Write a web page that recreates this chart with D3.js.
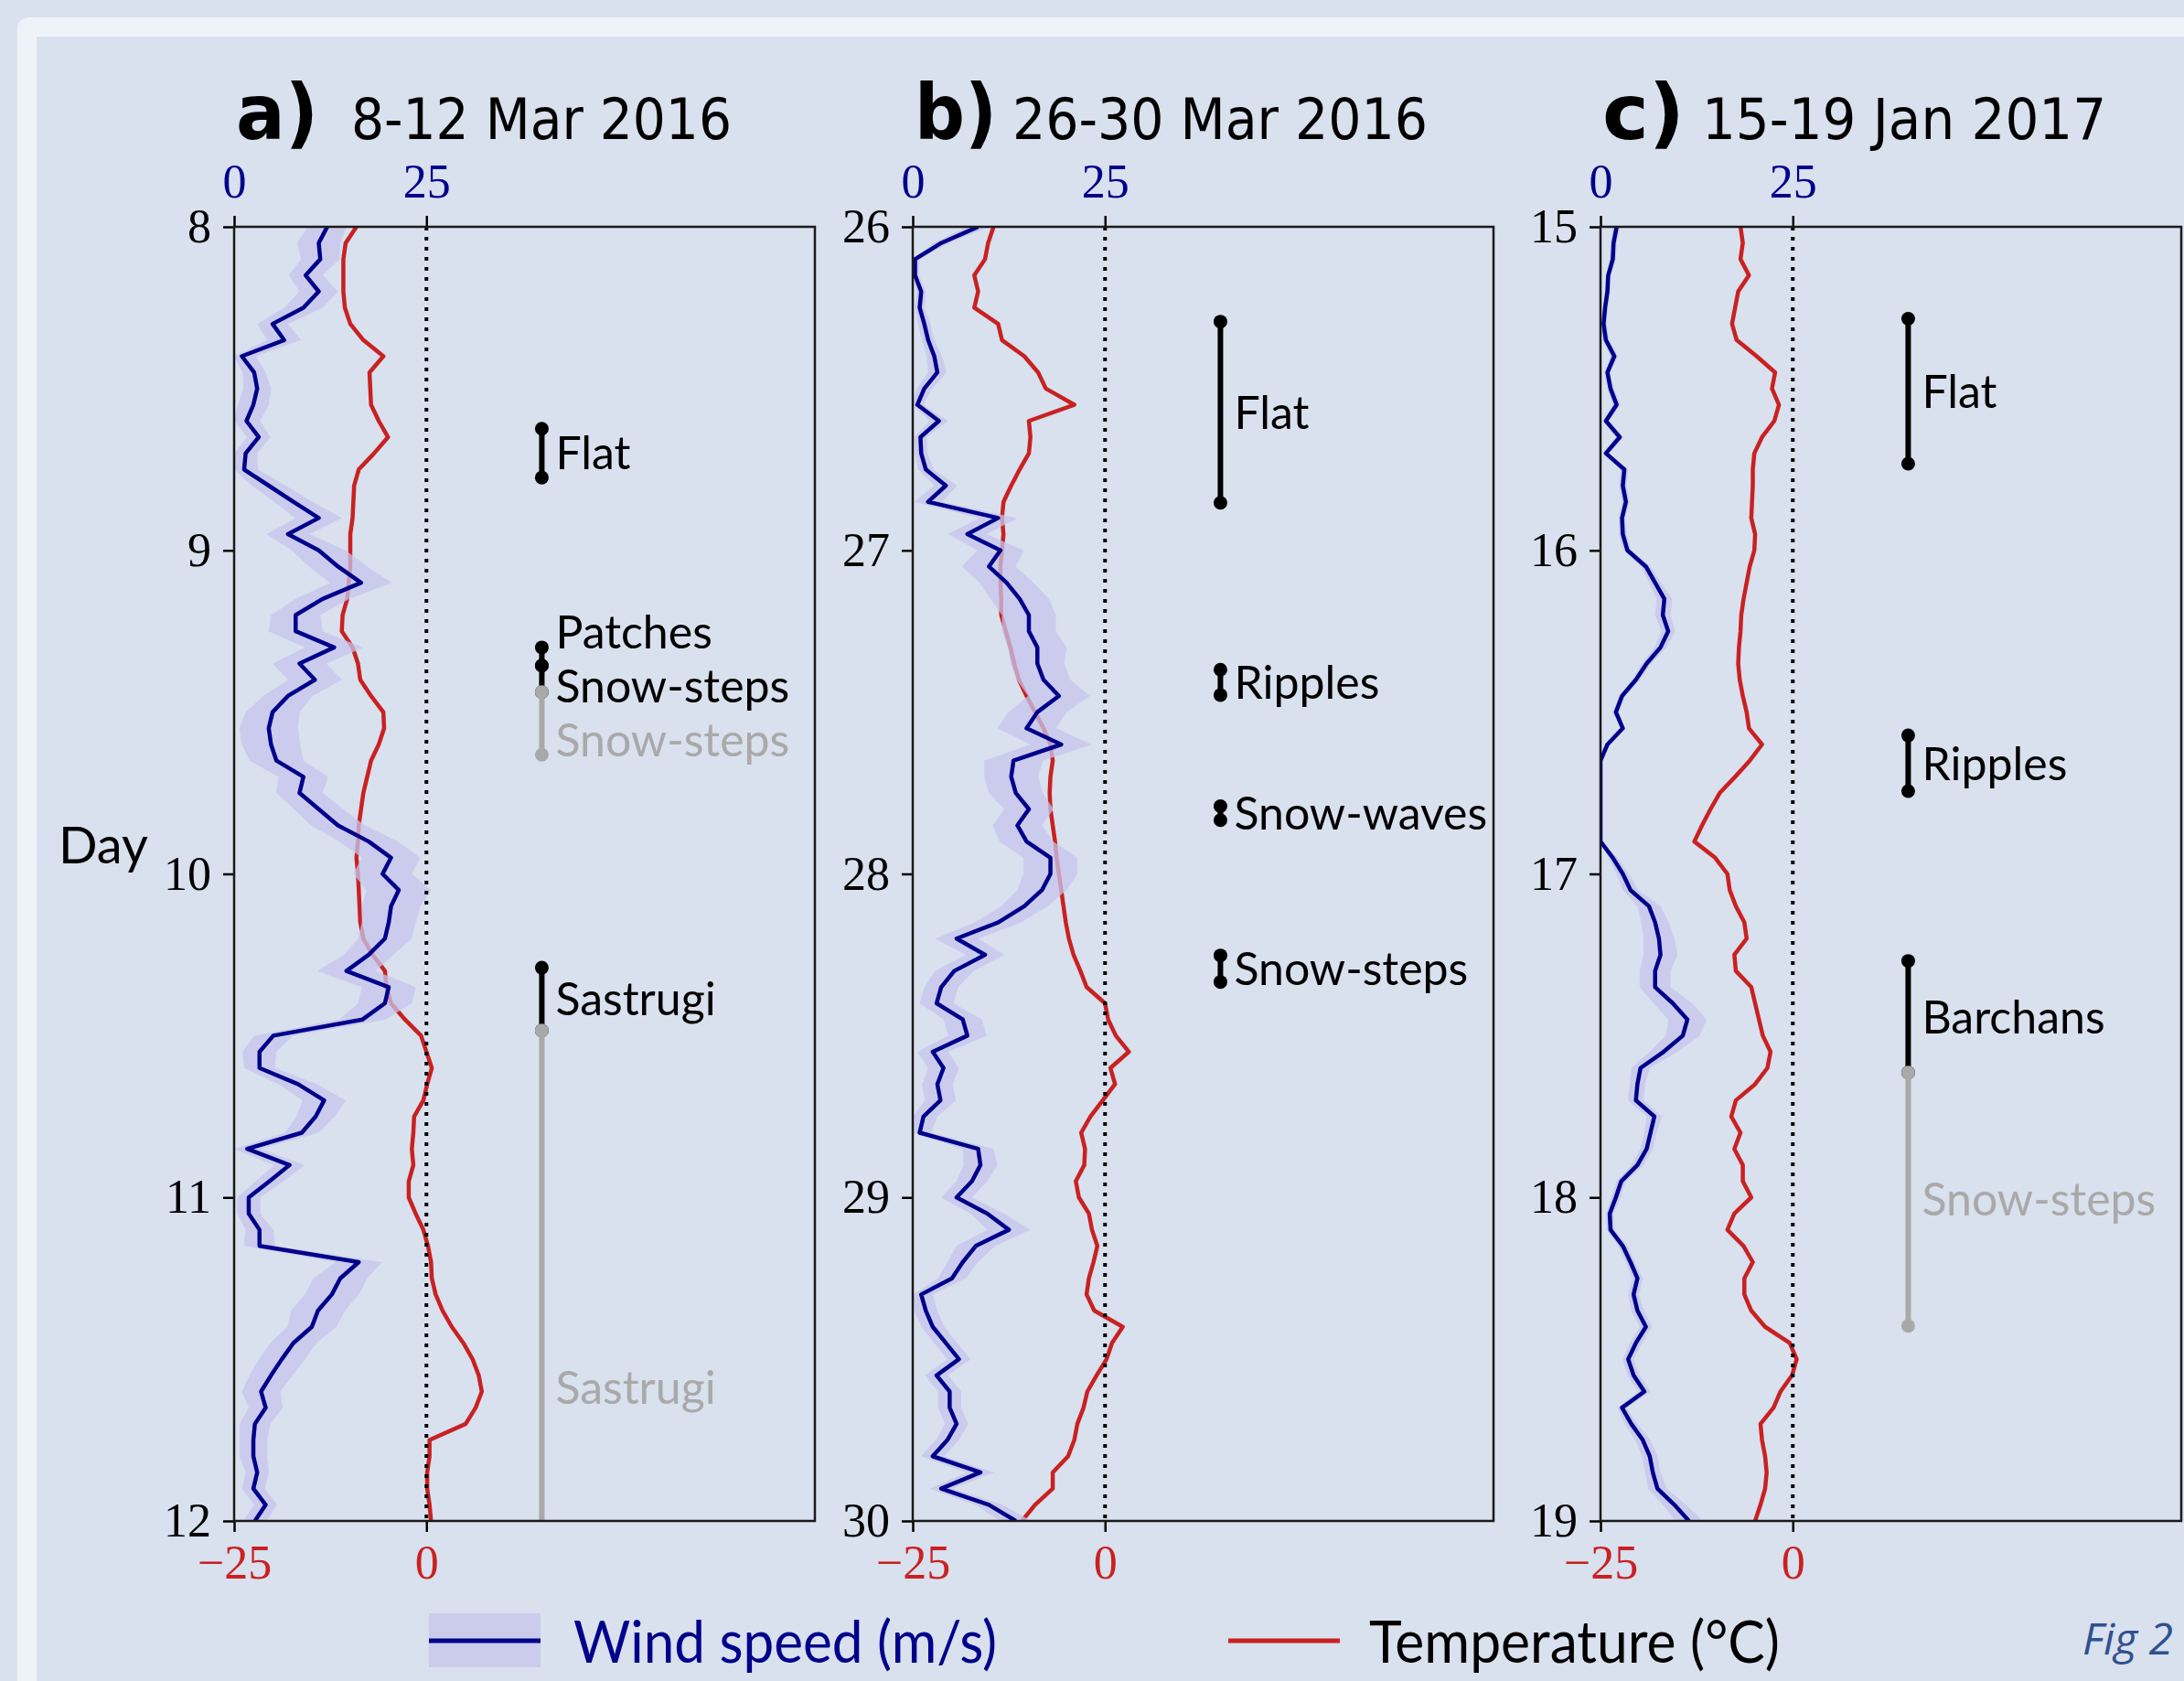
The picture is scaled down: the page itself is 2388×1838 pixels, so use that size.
<!DOCTYPE html>
<html>
<head>
<meta charset="utf-8">
<script src="https://cdn.jsdelivr.net/npm/d3@7"></script>
<style>
  html, body { margin: 0; padding: 0; background: #d9e0ee; }
  svg { display: block; }
</style>
</head>
<body>
<script>
// ---- data (one sample every 0.05 day) ----
const step = 0.05;
const panelTitles = ["a)", "b)", "c)"];
const panelDates = ["8-12 Mar 2016", "26-30 Mar 2016", "15-19 Jan 2017"];
const dayStarts = [8, 26, 15];
const windTicks = [0, 25];
const tempTicks = [-25, 0];

// wind speed (m/s)
const windA = [12.1, 11.0, 11.2, 9.3, 11.0, 9.0, 5.0, 6.5, 1.0, 2.6, 3.0, 2.5, 1.6, 3.2, 1.5, 1.3, 4.5, 7.7, 11.0, 7.0,
  11.0, 13.5, 16.5, 11.5, 8.0, 8.0, 13.0, 8.5, 10.5, 7.0, 5.0, 4.5, 4.8, 5.5, 9.0, 8.5, 11.0, 13.5, 17.5, 20.4,
  19.3, 21.4, 20.4, 20.1, 19.6, 17.5, 14.6, 20.1, 19.6, 16.7, 5.1, 3.3, 3.3, 8.3, 11.7, 10.6, 8.8, 1.7, 7.2, 4.6,
  1.9, 1.9, 3.3, 3.3, 16.2, 13.8, 12.7, 10.9, 10.1, 7.7, 6.2, 4.8, 3.5, 4.1, 2.7, 2.5, 2.5, 3.0, 2.5, 4.1, 2.7];
const windB = [8.5, 3.7, 0.3, 0.3, 1.1, 0.9, 1.5, 2.0, 2.8, 3.2, 1.5, 0.6, 3.4, 1.0, 1.1, 1.7, 4.3, 2.0, 11.1, 7.1,
  11.4, 9.9, 12.2, 13.9, 15.1, 15.1, 16.2, 16.2, 17.0, 19.0, 16.2, 14.8, 19.3, 13.1, 12.8, 13.4, 15.1, 13.6, 14.8, 17.9,
  17.9, 16.8, 14.5, 11.1, 5.7, 9.4, 5.4, 3.7, 3.1, 6.5, 7.1, 2.6, 4.0, 3.2, 3.6, 1.4, 0.9, 8.5, 8.8, 7.7,
  5.7, 9.7, 12.5, 8.2, 6.5, 5.1, 1.1, 1.7, 2.6, 4.3, 6.0, 3.1, 4.8, 4.8, 5.7, 4.5, 2.6, 8.8, 3.7, 9.9, 13.4];
const windC = [2.1, 1.7, 1.6, 1.0, 0.9, 0.6, 0.4, 0.7, 1.8, 0.9, 1.3, 2.1, 0.7, 2.5, 0.7, 3.1, 2.9, 3.3, 2.8, 2.9,
  3.5, 5.9, 7.1, 8.3, 8.1, 8.8, 7.8, 6.0, 4.6, 2.8, 2.0, 2.9, 0.9, 0, 0, 0, 0, 0, 0, 1.6,
  2.9, 3.9, 6.3, 7.1, 7.6, 7.8, 7.1, 7.1, 9.4, 11.3, 10.7, 8.2, 5.2, 4.8, 4.6, 7.0, 6.5, 6.0, 4.8, 2.7,
  2.0, 1.2, 1.3, 2.9, 3.9, 4.8, 4.3, 4.8, 5.9, 4.6, 3.6, 4.3, 5.7, 2.8, 4.0, 5.5, 6.4, 6.8, 7.4, 9.6, 11.5];

// half width of the wind speed envelope (m/s)
const spreadA = [2.5, 2.8, 2.5, 2.2, 2.5, 2.5, 2.0, 2.2, 1.8, 1.5, 1.8, 2.0, 1.8, 1.5, 1.5, 1.8, 2.2, 2.5, 3.0, 2.8,
  3.5, 3.8, 4.0, 3.5, 3.2, 3.5, 3.8, 3.5, 3.5, 3.2, 3.5, 3.8, 3.8, 3.5, 3.2, 3.0, 3.2, 3.5, 3.8, 3.8,
  3.8, 4.2, 3.8, 3.5, 3.5, 3.2, 3.8, 3.5, 3.5, 3.0, 2.5, 2.2, 2.0, 2.5, 2.8, 2.5, 2.2, 1.8, 2.0, 1.8,
  1.5, 1.5, 1.8, 2.0, 3.0, 3.5, 3.5, 3.5, 3.2, 3.0, 3.0, 2.8, 2.5, 2.2, 2.0, 1.8, 1.8, 1.5, 1.5, 1.5, 1.5];
const spreadB = [1.5, 1.0, 0.6, 0.5, 0.6, 0.6, 0.8, 0.8, 1.0, 1.2, 1.0, 0.8, 1.2, 0.8, 0.8, 1.0, 1.5, 1.8, 2.5, 2.5,
  3.0, 3.5, 3.5, 3.8, 3.5, 3.5, 3.8, 3.5, 3.5, 4.0, 3.8, 3.8, 4.0, 3.8, 3.5, 3.5, 3.2, 3.2, 3.5, 3.5,
  3.5, 3.2, 3.0, 3.0, 2.8, 2.5, 2.5, 2.2, 2.2, 2.5, 2.5, 2.0, 2.0, 2.0, 2.0, 1.8, 1.5, 2.0, 2.2, 2.0,
  2.0, 2.2, 2.8, 2.5, 2.0, 1.8, 1.5, 1.5, 1.5, 1.5, 1.5, 1.5, 1.5, 1.5, 1.5, 1.5, 1.5, 1.8, 1.5, 1.8, 2.0];
const spreadC = [0.5, 0.4, 0.4, 0.3, 0.4, 0.3, 0.4, 0.4, 0.5, 0.4, 0.4, 0.5, 0.4, 0.5, 0.4, 0.5, 0.5, 0.5, 0.4, 0.5,
  0.5, 0.6, 0.8, 1.0, 1.0, 0.9, 0.8, 0.6, 0.5, 0.4, 0.4, 0.3, 0.2, 0, 0, 0, 0, 0, 0, 0.6,
  0.8, 1.0, 1.5, 1.8, 2.0, 2.2, 2.0, 2.0, 2.5, 2.5, 2.2, 1.8, 1.2, 1.0, 1.0, 1.0, 0.8, 0.8, 0.8, 0.6,
  0.6, 0.5, 0.5, 0.6, 0.6, 0.7, 0.7, 0.8, 0.8, 0.8, 0.7, 0.8, 0.8, 0.6, 0.8, 1.0, 1.0, 1.0, 1.2, 1.5, 1.8];

// temperature (deg C)
const tempA = [-9.1, -10.5, -10.8, -10.8, -10.8, -10.6, -9.9, -8.2, -5.6, -7.4, -7.3, -7.2, -6.2, -5.0, -6.8, -8.8, -9.4, -9.5, -9.6, -9.9,
  -9.9, -9.9, -10.1, -10.3, -10.9, -11.0, -9.6, -8.9, -8.6, -7.2, -5.6, -5.5, -6.2, -7.2, -7.7, -8.2, -8.5, -8.8, -8.9, -9.1,
  -8.9, -8.8, -8.7, -8.6, -8.2, -7.0, -5.4, -5.2, -4.6, -2.8, -0.7, 0.0, 0.7, 0.1, -0.4, -1.6, -1.7, -1.9, -1.7, -2.3,
  -2.3, -1.4, -0.4, 0.2, 0.6, 0.7, 1.2, 2.1, 3.3, 4.8, 6.0, 6.8, 7.2, 6.4, 5.1, 0.4, 0.4, 0.1, 0.1, 0.4, 0.6];
const tempB = [-14.5, -15.2, -15.6, -17.0, -16.5, -17.0, -13.9, -13.4, -10.5, -8.7, -7.7, -4.0, -9.9, -9.7, -9.9, -11.1, -12.2, -13.2, -13.4, -13.2,
  -13.4, -13.6, -13.6, -13.5, -13.5, -12.9, -12.3, -11.8, -11.2, -10.2, -9.1, -8.0, -7.1, -6.8, -7.1, -7.2, -7.1, -6.8, -6.5, -6.3,
  -6.0, -5.7, -5.4, -5.1, -4.7, -4.1, -3.2, -2.4, 0.0, 0.4, 1.4, 3.1, 0.7, 1.3, -0.3, -1.9, -3.1, -2.6, -2.7, -3.8,
  -3.4, -2.1, -1.7, -1.0, -1.5, -2.1, -2.4, -1.4, 2.3, 0.9, 0.2, -1.1, -2.3, -2.8, -3.6, -4.0, -4.8, -6.8, -6.8, -9.1, -10.8];
const tempC = [-6.8, -6.5, -6.8, -5.7, -7.1, -7.5, -7.9, -7.3, -4.7, -2.3, -2.7, -1.8, -2.4, -4.0, -5.0, -5.2, -5.2, -5.3, -5.4, -4.9,
  -5.0, -5.6, -6.0, -6.4, -6.7, -6.8, -7.0, -7.1, -6.9, -6.5, -6.0, -5.7, -4.0, -5.6, -7.5, -9.5, -10.7, -11.8, -12.8, -10.1,
  -8.5, -8.2, -7.4, -6.3, -6.0, -7.6, -7.4, -5.4, -4.9, -4.4, -3.9, -2.9, -3.3, -4.9, -7.4, -8.0, -6.8, -7.6, -6.5, -6.5,
  -5.4, -7.6, -8.5, -6.4, -5.2, -6.3, -6.3, -5.4, -3.6, -0.4, 0.5, -0.1, -1.6, -2.5, -4.2, -4.0, -3.6, -3.4, -3.6, -4.2, -4.9];

// observed bedforms: [label, first day, last day, "obs" (black) or "inf" (grey)]
const periodsA = [
  ["Flat", 8.624, 8.775, "obs"],
  ["Patches", 9.30, 9.356, "obs"],
  ["Snow-steps", 9.356, 9.438, "obs"],
  ["Sastrugi", 10.29, 10.484, "obs"],
  ["Snow-steps", 9.438, 9.632, "inf"],
  ["Sastrugi", 10.484, 12.69, "inf"]
];
const periodsB = [
  ["Flat", 26.293, 26.853, "obs"],
  ["Ripples", 27.369, 27.447, "obs"],
  ["Snow-waves", 27.791, 27.834, "obs"],
  ["Snow-steps", 28.252, 28.334, "obs"]
];
const periodsC = [
  ["Flat", 15.284, 15.732, "obs"],
  ["Ripples", 16.572, 16.744, "obs"],
  ["Barchans", 17.269, 17.614, "obs"],
  ["Snow-steps", 17.614, 18.397, "inf"]
];

// ---- layout ----
const W = 2388, H = 1838;
const plotLeft = [256, 998, 1750];
const plotW = 635, plotTop = 248, plotBottom = 1663;
const dateOffset = [128, 109, 111];
const labelShift = { "0-1": -27, "0-2": 8, "0-4": 18 }; // keep the crowded labels apart
const windDomain = [0, 75.5], tempDomain = [-25, 50.5];
const barWind = 40;

const blue = "#00008b", red = "#c92121", grey = "#a9a9a9";
const bandFill = "#c6c6ec", bandOpacity = 0.75;
const serif = "'Liberation Serif', 'DejaVu Serif', serif";
const sans = "Lato, 'Open Sans', sans-serif";
const narrow = "'Liberation Sans Narrow', 'DejaVu Sans Condensed', 'Liberation Sans', sans-serif";

const svg = d3.select("body").append("svg")
  .attr("width", W).attr("height", H);

// light frame around the figure
svg.append("rect").attr("x", 19).attr("y", 19).attr("width", W).attr("height", H)
  .attr("rx", 12).attr("fill", "#eef2f9");
svg.append("rect").attr("x", 40).attr("y", 40).attr("width", W).attr("height", H)
  .attr("fill", "#d9e0ee");

const panels = [
  { wind: windA, temp: tempA, spread: spreadA, periods: periodsA },
  { wind: windB, temp: tempB, spread: spreadB, periods: periodsB },
  { wind: windC, temp: tempC, spread: spreadC, periods: periodsC }
];

panels.forEach((p, i) => {
  const x0 = plotLeft[i], x1 = x0 + plotW;
  const start = dayStarts[i];
  const xWind = d3.scaleLinear().domain(windDomain).range([x0, x1]);
  const xTemp = d3.scaleLinear().domain(tempDomain).range([x0, x1]);
  const y = d3.scaleLinear().domain([start, start + 4]).range([plotTop, plotBottom]);
  const days = p.wind.map((_, k) => start + k * step);

  const g = svg.append("g");

  g.append("clipPath").attr("id", "clip" + i)
    .append("rect")
    .attr("x", x0).attr("y", plotTop)
    .attr("width", plotW).attr("height", plotBottom - plotTop);

  const plot = g.append("g").attr("clip-path", `url(#clip${i})`);

  // temperature (under the wind envelope)
  plot.append("path")
    .datum(p.temp)
    .attr("d", d3.line().x(d => xTemp(d)).y((d, k) => y(days[k])))
    .attr("fill", "none")
    .attr("stroke", red)
    .attr("stroke-width", 4.5)
    .attr("stroke-linejoin", "round");

  // wind envelope
  plot.append("path")
    .datum(p.wind)
    .attr("d", d3.area()
      .y((d, k) => y(days[k]))
      .x0((d, k) => xWind(Math.max(0, d - p.spread[k])))
      .x1((d, k) => xWind(d + p.spread[k])))
    .attr("fill", bandFill)
    .attr("fill-opacity", bandOpacity);

  // wind line
  plot.append("path")
    .datum(p.wind)
    .attr("d", d3.line().x(d => xWind(d)).y((d, k) => y(days[k])))
    .attr("fill", "none")
    .attr("stroke", blue)
    .attr("stroke-width", 4.5)
    .attr("stroke-linejoin", "round");

  // 0 degC / 25 m/s reference
  plot.append("line")
    .attr("x1", xTemp(0)).attr("x2", xTemp(0))
    .attr("y1", plotTop).attr("y2", plotBottom)
    .attr("stroke", "#000")
    .attr("stroke-width", 4)
    .attr("stroke-dasharray", "4 7");

  // bedform periods
  const bx = xWind(barWind);
  p.periods.forEach((per, j) => {
    const [label, d0, d1, kind] = per;
    const col = kind === "obs" ? "#000" : grey;
    plot.append("line")
      .attr("x1", bx).attr("x2", bx)
      .attr("y1", y(d0)).attr("y2", y(d1))
      .attr("stroke", col).attr("stroke-width", 6);
    [d0, d1].forEach(d => {
      plot.append("circle")
        .attr("cx", bx).attr("cy", y(d)).attr("r", 7.5)
        .attr("fill", col);
    });
    g.append("text")
      .attr("x", bx + 15)
      .attr("y", y((d0 + d1) / 2) + (labelShift[i + "-" + j] || 0))
      .attr("dy", "0.36em")
      .attr("font-family", sans)
      .attr("font-size", 50)
      .attr("fill", kind === "obs" ? "#000" : grey)
      .text(label);
  });

  // axes
  const left = g.append("g")
    .attr("transform", `translate(${x0},0)`)
    .call(d3.axisLeft(y).tickValues(d3.range(start, start + 5)).tickSize(12).tickPadding(13).tickFormat(d3.format("d")));
  left.selectAll("text").attr("font-family", serif).attr("font-size", 52).attr("fill", "#000");

  const top = g.append("g")
    .attr("transform", `translate(0,${plotTop})`)
    .call(d3.axisTop(xWind).tickValues(windTicks).tickSize(12).tickPadding(20).tickFormat(d3.format("d")));
  top.selectAll("text").attr("font-family", serif).attr("font-size", 52).attr("fill", blue);

  const bottom = g.append("g")
    .attr("transform", `translate(0,${plotBottom})`)
    .call(d3.axisBottom(xTemp).tickValues(tempTicks).tickSize(12).tickPadding(14).tickFormat(d3.format("d")));
  bottom.selectAll("text").attr("font-family", serif).attr("font-size", 52).attr("fill", red);

  [left, top, bottom].forEach(a => {
    a.select(".domain").remove();
    a.selectAll(".tick line").attr("stroke", "#000").attr("stroke-width", 2.5);
  });

  g.append("rect")
    .attr("x", x0).attr("y", plotTop)
    .attr("width", plotW).attr("height", plotBottom - plotTop)
    .attr("fill", "none")
    .attr("stroke", "#1a1a1a")
    .attr("stroke-width", 2.5);

  // panel title
  g.append("text")
    .attr("x", x0 + 2).attr("y", 152)
    .attr("font-family", narrow).attr("font-weight", "bold")
    .attr("font-size", 84)
    .attr("textLength", 90).attr("lengthAdjust", "spacingAndGlyphs")
    .text(panelTitles[i]);
  g.append("text")
    .attr("x", x0 + dateOffset[i]).attr("y", 152)
    .attr("font-family", narrow)
    .attr("font-size", 62)
    .attr("textLength", [416, 454, 442][i]).attr("lengthAdjust", "spacingAndGlyphs")
    .text(panelDates[i]);
});

// y label
svg.append("text")
  .attr("x", 64).attr("y", 944)
  .attr("font-family", sans).attr("font-size", 56)
  .text("Day");

// legend
const leg = svg.append("g");
leg.append("rect")
  .attr("x", 469).attr("y", 1764).attr("width", 122).attr("height", 59)
  .attr("fill", bandFill).attr("fill-opacity", bandOpacity);
leg.append("line")
  .attr("x1", 469).attr("x2", 591).attr("y1", 1794).attr("y2", 1794)
  .attr("stroke", blue).attr("stroke-width", 5);
leg.append("text")
  .attr("x", 627).attr("y", 1818)
  .attr("font-family", sans).attr("font-size", 64).attr("fill", blue)
  .attr("textLength", 463).attr("lengthAdjust", "spacingAndGlyphs")
  .text("Wind speed (m/s)");
leg.append("line")
  .attr("x1", 1343).attr("x2", 1465).attr("y1", 1794).attr("y2", 1794)
  .attr("stroke", red).attr("stroke-width", 5);
leg.append("text")
  .attr("x", 1497).attr("y", 1818)
  .attr("font-family", sans).attr("font-size", 64).attr("fill", "#000")
  .attr("textLength", 449).attr("lengthAdjust", "spacingAndGlyphs")
  .text("Temperature (°C)");

svg.append("text")
  .attr("x", 2277).attr("y", 1809)
  .attr("font-family", "'Open Sans', sans-serif")
  .attr("font-style", "italic")
  .attr("font-size", 48)
  .attr("fill", "#2f5090")
  .text("Fig 2");
</script>
</body>
</html>
